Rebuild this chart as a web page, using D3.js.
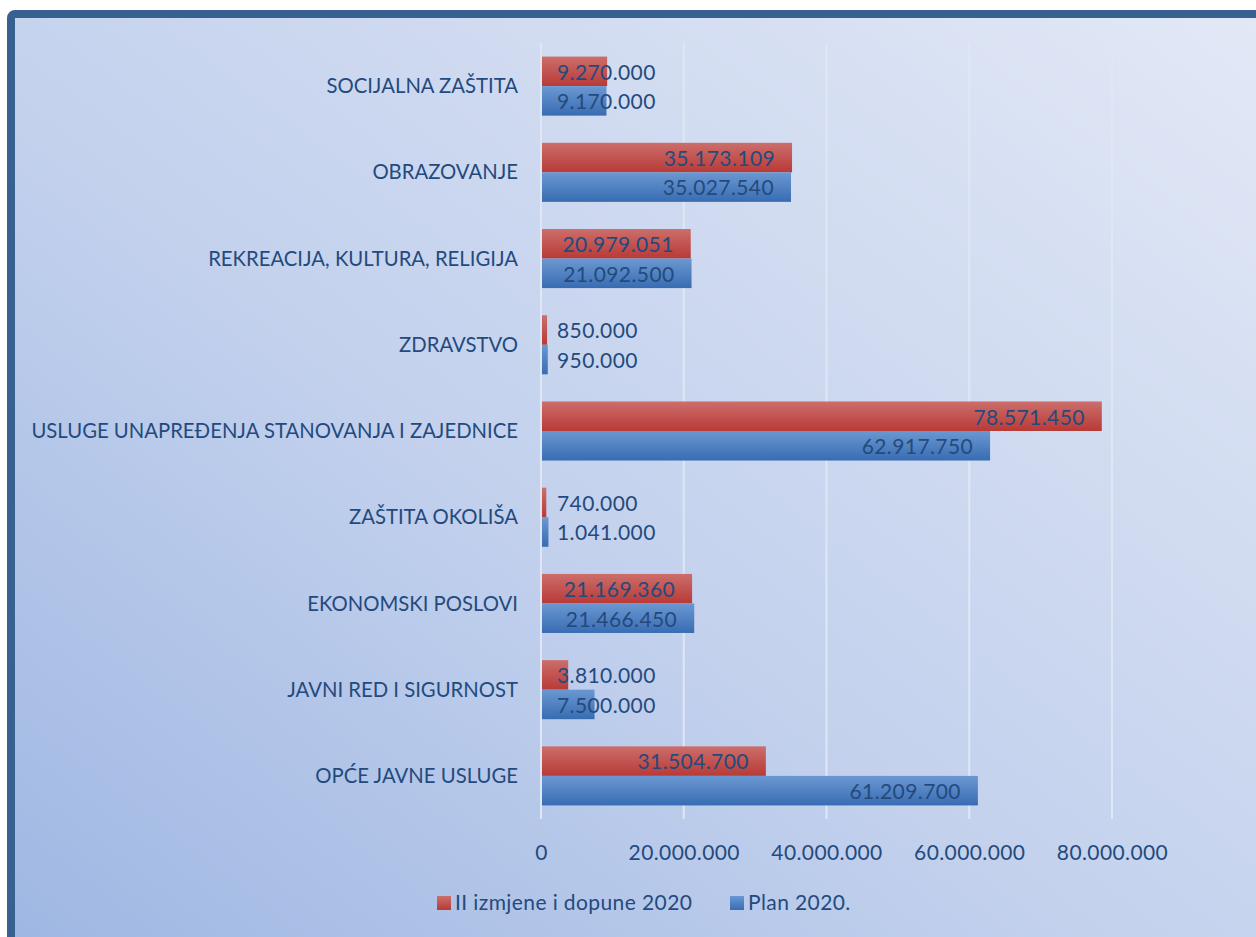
<!DOCTYPE html>
<html>
<head>
<meta charset="utf-8">
<script src="https://cdn.jsdelivr.net/npm/d3@7"></script>
<style>
  html, body { margin: 0; padding: 0; background: #fff; }
  svg { display: block; font-family: Lato, "Open Sans", sans-serif; }
</style>
</head>
<body>
<div id="chart"></div>
<script>
const categories = [
  "SOCIJALNA ZAŠTITA",
  "OBRAZOVANJE",
  "REKREACIJA, KULTURA, RELIGIJA",
  "ZDRAVSTVO",
  "USLUGE UNAPREĐENJA STANOVANJA I ZAJEDNICE",
  "ZAŠTITA OKOLIŠA",
  "EKONOMSKI POSLOVI",
  "JAVNI RED I SIGURNOST",
  "OPĆE JAVNE USLUGE"
];
const izmjene = [9270000, 35173109, 20979051, 850000, 78571450, 740000, 21169360, 3810000, 31504700];
const plan = [9170000, 35027540, 21092500, 950000, 62917750, 1041000, 21466450, 7500000, 61209700];
const seriesNames = ["II izmjene i dopune 2020", "Plan 2020."];
const xTicks = [0, 20000000, 40000000, 60000000, 80000000];

const width = 1256;
const height = 937;
const plot = { left: 541, right: 1255, top: 43, bottom: 819 };
const textColor = "#244a7d";

const fmt = (v) => d3.format(",")(v).replace(/,/g, ".");

const svg = d3.select("#chart").append("svg")
  .attr("width", width)
  .attr("height", height);

const defs = svg.append("defs");

const bg = defs.append("linearGradient")
  .attr("id", "bg")
  .attr("x1", 0).attr("y1", 1).attr("x2", 1).attr("y2", 0);
bg.append("stop").attr("offset", "0%").attr("stop-color", "#9bb5e2");
bg.append("stop").attr("offset", "45%").attr("stop-color", "#c3d1ed");
bg.append("stop").attr("offset", "100%").attr("stop-color", "#e3e9f6");

const redGrad = defs.append("linearGradient")
  .attr("id", "redGrad").attr("x1", 0).attr("y1", 0).attr("x2", 0).attr("y2", 1);
redGrad.append("stop").attr("offset", "0%").attr("stop-color", "#cc6e6b");
redGrad.append("stop").attr("offset", "100%").attr("stop-color", "#b83a37");

const blueGrad = defs.append("linearGradient")
  .attr("id", "blueGrad").attr("x1", 0).attr("y1", 0).attr("x2", 0).attr("y2", 1);
blueGrad.append("stop").attr("offset", "0%").attr("stop-color", "#6b98d2");
blueGrad.append("stop").attr("offset", "100%").attr("stop-color", "#386cb2");

// frame (extends past the window on the right and bottom)
svg.append("rect")
  .attr("x", 11).attr("y", 14)
  .attr("width", 1300).attr("height", 1000)
  .attr("rx", 4)
  .attr("fill", "url(#bg)")
  .attr("stroke", "#386090")
  .attr("stroke-width", 8);

const x = d3.scaleLinear()
  .domain([0, 100000000])
  .range([plot.left, plot.left + 5 * 142.75]);

const y = d3.scaleBand()
  .domain(categories)
  .range([plot.top, plot.bottom])
  .paddingInner(0.315)
  .paddingOuter(0.1575);

const inner = d3.scaleBand()
  .domain(seriesNames)
  .range([0, y.bandwidth()]);

// gridlines
svg.append("g")
  .selectAll("line")
  .data(xTicks)
  .join("line")
  .attr("x1", (d) => x(d)).attr("x2", (d) => x(d))
  .attr("y1", plot.top).attr("y2", plot.bottom)
  .attr("stroke", "#dfe7f5")
  .attr("stroke-width", 2);

// x axis labels
const xAxis = d3.axisBottom(x)
  .tickValues(xTicks)
  .tickSize(0)
  .tickPadding(0)
  .tickFormat((d) => fmt(d));

const xg = svg.append("g")
  .attr("transform", `translate(0, ${plot.bottom + 26})`)
  .call(xAxis);
xg.select(".domain").remove();
xg.selectAll("text")
  .attr("fill", textColor)
  .attr("font-size", 21)
  .attr("letter-spacing", 0.4)
  .attr("font-family", "Lato, sans-serif");

// category labels
svg.append("g")
  .selectAll("text")
  .data(categories)
  .join("text")
  .attr("x", 518)
  .attr("y", (d) => y(d) + y.bandwidth() / 2)
  .attr("dy", "0.35em")
  .attr("text-anchor", "end")
  .attr("fill", textColor)
  .attr("font-size", 20.3)
  .text((d) => d);

const rows = categories.map((c, i) => ({
  category: c,
  values: [
    { series: seriesNames[0], value: izmjene[i], fill: "url(#redGrad)" },
    { series: seriesNames[1], value: plan[i], fill: "url(#blueGrad)" }
  ]
}));

const groups = svg.append("g")
  .selectAll("g")
  .data(rows)
  .join("g")
  .attr("transform", (d) => `translate(0, ${y(d.category)})`);

groups.selectAll("rect")
  .data((d) => d.values)
  .join("rect")
  .attr("x", x(0) + 1)
  .attr("y", (d) => inner(d.series))
  .attr("width", (d) => Math.max(x(d.value) - x(0) - 1, 1))
  .attr("height", inner.bandwidth())
  .attr("fill", (d) => d.fill);

groups.selectAll("text")
  .data((d) => d.values)
  .join("text")
  .attr("y", (d) => inner(d.series) + inner.bandwidth() / 2 + 1)
  .attr("dy", "0.35em")
  .attr("fill", textColor)
  .attr("font-size", 21)
  .attr("letter-spacing", 0.4)
  .text((d) => fmt(d.value))
  .each(function (d) {
    const w = this.getComputedTextLength();
    const end = x(d.value) - 17;
    const start = Math.max(end - w, x(0) + 16);
    d3.select(this).attr("x", start);
  });

// legend
const legend = svg.append("g")
  .attr("transform", `translate(437, 903)`);
const legendItems = [
  { name: seriesNames[0], fill: "url(#redGrad)", x: 0 },
  { name: seriesNames[1], fill: "url(#blueGrad)", x: 293 }
];
const li = legend.selectAll("g")
  .data(legendItems)
  .join("g")
  .attr("transform", (d) => `translate(${d.x}, 0)`);
li.append("rect")
  .attr("x", 0).attr("y", -7)
  .attr("width", 14).attr("height", 14)
  .attr("fill", (d) => d.fill);
li.append("text")
  .attr("x", 18)
  .attr("dy", "0.35em")
  .attr("fill", textColor)
  .attr("font-size", 21)
  .attr("letter-spacing", 0.4)
  .text((d) => d.name);
</script>
</body>
</html>
